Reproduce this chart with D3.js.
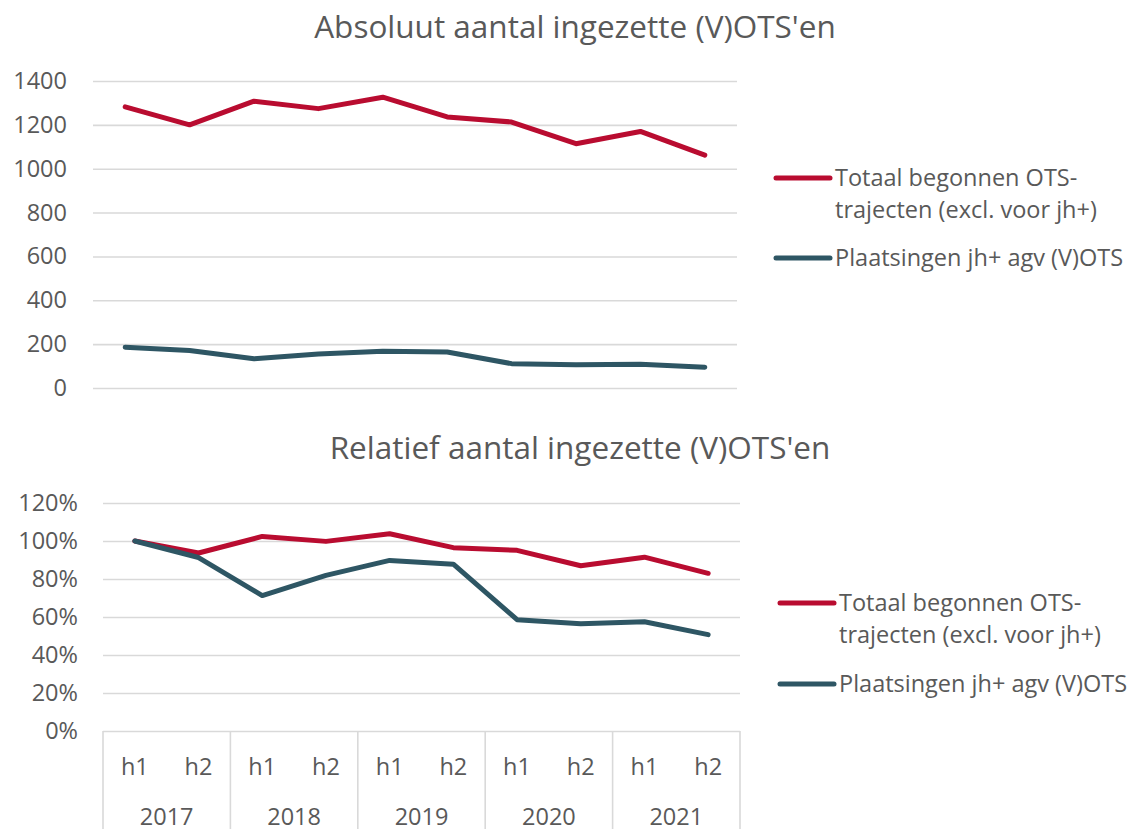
<!DOCTYPE html>
<html>
<head>
<meta charset="utf-8">
<title>(V)OTS'en</title>
<script src="https://cdn.jsdelivr.net/npm/d3@7"></script>
<style>
  body { margin: 0; background: #fff; }
  svg text { font-family: "Open Sans", "Noto Sans", sans-serif; fill: #595959; }
</style>
</head>
<body>
<div id="chart"></div>
<script>
// data
const years = ["2017", "2018", "2019", "2020", "2021"];
const halves = ["h1", "h2"];
const periods = ["2017 h1", "2017 h2", "2018 h1", "2018 h2", "2019 h1", "2019 h2", "2020 h1", "2020 h2", "2021 h1", "2021 h2"];
const absTotaal = [1282, 1200, 1308, 1274, 1326, 1236, 1213, 1114, 1170, 1062];
const absPlaats = [186, 171, 133, 155, 168, 164, 111, 106, 108, 95];
const relTotaal = [1.00, 0.937, 1.024, 0.998, 1.038, 0.965, 0.951, 0.870, 0.915, 0.830];
const relPlaats = [1.00, 0.913, 0.713, 0.819, 0.898, 0.878, 0.586, 0.565, 0.575, 0.507];
const absTicks = [0, 200, 400, 600, 800, 1000, 1200, 1400];
const relTicks = [0, 0.2, 0.4, 0.6, 0.8, 1.0, 1.2];

const colors = ["#b90c30", "#2e5664"];
const W = 1136, H = 829;
const FS = 23.5;

const svg = d3.select("#chart").append("svg")
    .attr("width", W).attr("height", H);

function panel(opt) {
    const x = d3.scaleBand().domain(periods).range([opt.x0, opt.x1]);
    const y = d3.scaleLinear().domain(opt.domain).range([opt.yb, opt.yt]);

    svg.append("text")
        .attr("x", opt.titleX).attr("y", opt.titleY)
        .attr("text-anchor", "middle")
        .attr("font-size", 31.5)
        .text(opt.title);

    const ax = svg.append("g")
        .attr("transform", `translate(${opt.x0},0)`)
        .call(d3.axisLeft(y).tickValues(opt.ticks).tickFormat(opt.fmt)
            .tickSize(-(opt.x1 - opt.x0)).tickPadding(opt.pad));
    ax.select(".domain").remove();
    ax.selectAll("line").attr("stroke", "#d9d9d9").attr("stroke-width", 1.6);
    ax.selectAll("text").attr("font-size", FS).attr("fill", "#595959");

    const line = d3.line()
        .x((d, i) => x(periods[i]) + x.bandwidth() / 2)
        .y(d => y(d));

    opt.series.forEach((s, k) => {
        svg.append("path")
            .datum(s)
            .attr("fill", "none")
            .attr("stroke", colors[k])
            .attr("stroke-width", 5)
            .attr("stroke-linejoin", "round")
            .attr("stroke-linecap", "round")
            .attr("d", line);
    });

    // legend
    opt.legend.forEach((lg, k) => {
        const g = svg.append("g").attr("transform", `translate(${opt.legX},${lg.y})`);
        g.append("line")
            .attr("x1", 0).attr("x2", 54)
            .attr("stroke", colors[k]).attr("stroke-width", 5)
            .attr("stroke-linecap", "round");
        const t = g.append("text")
            .attr("x", 59).attr("y", 8)
            .attr("font-size", FS);
        lg.lines.forEach((ln, j) => {
            t.append("tspan").attr("x", 59).attr("dy", j === 0 ? 0 : 32).text(ln);
        });
    });
    return x;
}

panel({
    title: "Absoluut aantal ingezette (V)OTS'en",
    titleX: 575, titleY: 38,
    x0: 93, x1: 737, yb: 388, yt: 81, pad: 26,
    domain: [0, 1400], ticks: absTicks, fmt: d3.format("d"),
    series: [absTotaal, absPlaats],
    legX: 776,
    legend: [
        { y: 178, lines: ["Totaal begonnen OTS-", "trajecten (excl. voor jh+)"] },
        { y: 258, lines: ["Plaatsingen jh+ agv (V)OTS"] }
    ]
});

const xb = panel({
    title: "Relatief aantal ingezette (V)OTS'en",
    titleX: 580, titleY: 459,
    x0: 103, x1: 740, yb: 731, yt: 503, pad: 25,
    domain: [0, 1.2], ticks: relTicks, fmt: d3.format(".0%"),
    series: [relTotaal, relPlaats],
    legX: 780,
    legend: [
        { y: 603, lines: ["Totaal begonnen OTS-", "trajecten (excl. voor jh+)"] },
        { y: 684, lines: ["Plaatsingen jh+ agv (V)OTS"] }
    ]
});

// two-level category axis
const cat = svg.append("g");
const bw = xb.bandwidth();
years.forEach((yr, i) => {
    const left = xb(yr + " h1");
    cat.append("line")
        .attr("x1", left).attr("x2", left)
        .attr("y1", 731).attr("y2", H)
        .attr("stroke", "#d9d9d9").attr("stroke-width", 1.6);
    halves.forEach(h => {
        cat.append("text")
            .attr("x", xb(yr + " " + h) + bw / 2).attr("y", 775)
            .attr("text-anchor", "middle").attr("font-size", FS)
            .text(h);
    });
    cat.append("text")
        .attr("x", left + bw).attr("y", 825)
        .attr("text-anchor", "middle").attr("font-size", FS)
        .text(yr);
});
cat.append("line")
    .attr("x1", 740).attr("x2", 740)
    .attr("y1", 731).attr("y2", H)
    .attr("stroke", "#d9d9d9").attr("stroke-width", 1.6);
</script>
</body>
</html>
